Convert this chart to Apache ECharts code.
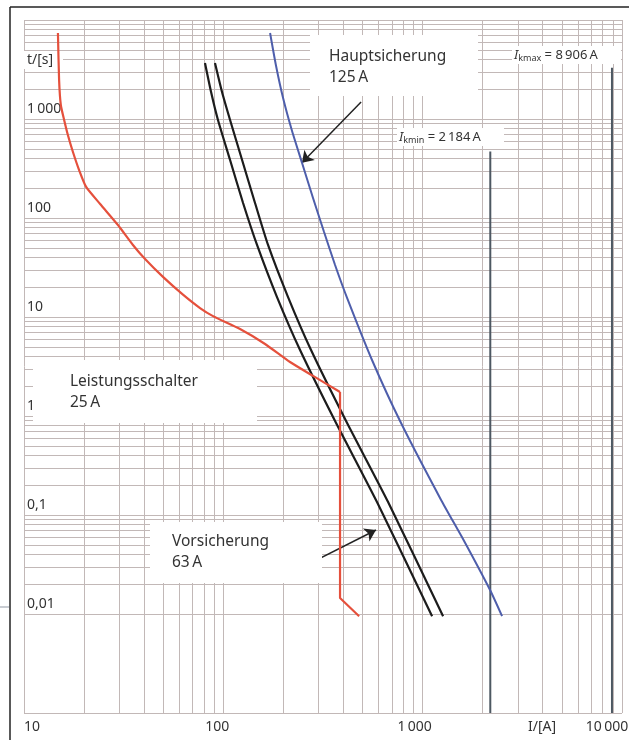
<!DOCTYPE html>
<html>
<head>
<meta charset="utf-8">
<script src="https://cdn.jsdelivr.net/npm/echarts@6.0.0/dist/echarts.min.js"></script>
<style>
  html, body { margin: 0; padding: 0; background: #fff; }
  #chart { width: 634px; height: 740px; }
</style>
</head>
<body>
<div id="chart"></div>
<script>
// Leistungsschalter 25 A  [I in A, t in s] - overload part and short-circuit part
const breaker25Curve = [
  [14.8, 7390], [15.0, 2477], [15.3, 1385], [15.9, 977], [16.6, 689], [17.6, 464],
  [18.9, 305], [20.5, 206], [24.1, 138.5], [29.6, 85], [35.2, 53.4], [40.5, 38.5],
  [49.8, 25.4], [62.1, 17.1], [76.4, 12.3], [88.8, 10.2], [121.3, 7.56], [161.9, 5.34],
  [216, 3.51], [282, 2.54], [385, 1.75]
]
const breaker25Trip = [[385, 1.75], [385, 0.0145], [480, 0.0095]]
// Vorsicherung 63 A, lower and upper band
const fuse63Min = [
  [80.9, 3680], [86.8, 1874], [94, 977], [108.1, 385], [125.6, 141.8], [147.6, 53.4],
  [185.9, 15.9], [242.6, 4.64], [363.5, 0.89], [590, 0.1353], [1115, 0.0095]
]
const fuse63Max = [
  [90.8, 3680], [98.5, 1874], [108.1, 977], [124.2, 385], [144.2, 141.8], [167.6, 53.4],
  [211.2, 15.9], [275.4, 4.64], [412.8, 0.89], [670.7, 0.1353], [1266, 0.0095]
]
// Hauptsicherung 125 A
const fuse125 = [
  [171.6, 7390], [183.9, 3430], [199.4, 1630], [221.2, 756], [248.3, 359], [281.8, 159],
  [320.1, 72.2], [363.5, 33.5], [417.6, 15.6], [557, 3.68], [779, 0.849], [1237, 0.142],
  [1614, 0.0546], [2178, 0.01746], [2502, 0.0095]
]
const ikmin = [[2184, 0.001], [2184, 470]]
const ikmax = [[8906, 0.001], [8906, 3300]]

const arrowHaupt = [[491, 1485], [248, 362]]
const arrowVor = [[209, 0.0248], [583, 0.0705]]

const xTickLabels = { 1: '10', 2: '100', 3: '1\u2009000', 4: '10\u2009000' }
const yTickLabels = { '-2': '0,01', '-1': '0,1', 0: '1', 1: '10', 2: '100', 3: '1\u2009000' }

const gridColor = '#c2b8b7'
const textColor = '#333'
const font = 'Noto Sans'

// minor grid lines 2..9 of each decade
const minorLines = []
for (const d of [10, 100, 1000]) {
  for (let m = 2; m <= 9; m++) minorLines.push({ xAxis: d * m })
}
for (const d of [0.001, 0.01, 0.1, 1, 10, 100, 1000]) {
  for (let m = 2; m <= 9; m++) minorLines.push({ yAxis: +(d * m).toPrecision(3) })
}

function curve(data, color, width, smooth) {
  return {
    type: 'line', data: data, showSymbol: false, z: 20, silent: true, smooth: smooth || false,
    lineStyle: { color: color, width: width }, animation: false
  }
}

function arrow(pts) {
  return [{ coord: pts[0] }, { coord: pts[1] }]
}

function box(x, y, w, h, lines, tx, ty) {
  return {
    type: 'group', z: 10,
    children: [
      { type: 'rect', z: 10, shape: { x: x, y: y, width: w, height: h }, style: { fill: '#fff' } },
      { type: 'text', z: 11, x: tx, y: ty, style: {
        text: lines, fill: textColor, font: '15.5px "' + font + '"', lineHeight: 21,
        textVerticalAlign: 'top' } }
    ]
  }
}

function ikLabel(x, y, w, sub, value) {
  return {
    type: 'group', z: 10,
    children: [
      { type: 'rect', z: 10, shape: { x: x, y: y, width: w, height: 18 }, style: { fill: '#fff' } },
      { type: 'text', z: 11, x: x + 2, y: y + 9, style: {
        text: '{i|I}{s|' + sub + '}{n| = ' + value + '}', fill: textColor, textVerticalAlign: 'middle',
        rich: {
          i: { fontFamily: font, fontSize: 13, fontStyle: 'italic', fill: textColor },
          s: { fontFamily: font, fontSize: 9, fill: textColor, padding: [7, 0, 0, 0] },
          n: { fontFamily: font, fontSize: 13, fill: textColor }
        } } }
    ]
  }
}

const chart = echarts.init(document.getElementById('chart'))
chart.setOption({
  animation: false,
  grid: { left: 24, top: 20, right: 12, bottom: 27 },
  xAxis: {
    type: 'log', min: 10, max: 10000, logBase: 10,
    axisLine: { show: false }, axisTick: { show: false },
    splitLine: { show: true, lineStyle: { color: gridColor, width: 1 } },
    axisLabel: {
      color: textColor, fontFamily: font, fontSize: 14, margin: 7,
      formatter: v => {
        const k = Math.round(Math.log10(v))
        return '{l' + k + '|' + xTickLabels[k] + '}'
      },
      rich: {
        l1: { padding: [0, 0, 0, 16] },
        l2: { padding: [0, 12, 0, 0] },
        l3: { padding: [0, 16, 0, 0] },
        l4: { padding: [0, 30, 0, 0] }
      }
    }
  },
  yAxis: {
    type: 'log', min: 0.001, max: 10000, logBase: 10,
    axisLine: { show: false }, axisTick: { show: false },
    splitLine: { show: true, lineStyle: { color: gridColor, width: 1 } },
    axisLabel: {
      inside: true, margin: 3, align: 'left', verticalAlign: 'bottom',
      padding: [0, 0, 3, 0],
      color: textColor, fontFamily: font, fontSize: 14,
      formatter: v => {
        const k = Math.round(Math.log10(v))
        return yTickLabels[k] !== undefined ? yTickLabels[k] : ''
      }
    }
  },
  series: [
    {
      type: 'line', data: [], z: 1, silent: true,
      markLine: {
        silent: true, symbol: 'none', animation: false, label: { show: false },
        lineStyle: { color: gridColor, width: 1, type: 'solid' },
        data: minorLines
      }
    },
    curve(ikmin, '#4d5862', 2),
    curve(ikmax, '#4d5862', 2),
    curve(fuse125, '#4e5eab', 2, 0.2),
    curve(fuse63Min, '#1c1c1c', 2.2, 0.2),
    curve(fuse63Max, '#1c1c1c', 2.2, 0.2),
    curve(breaker25Curve, '#e5503c', 2.2, 0.2),
    curve(breaker25Trip, '#e5503c', 2.2),
    {
      type: 'line', data: [], z: 21, silent: true,
      markLine: {
        silent: true, symbol: ['none', 'arrow'], symbolSize: 11, animation: false,
        label: { show: false },
        lineStyle: { color: '#222', width: 1.5, type: 'solid' },
        data: [arrow(arrowHaupt), arrow(arrowVor)]
      }
    }
  ],
  graphic: [
    { type: 'line', z: 30, shape: { x1: 10, y1: 7, x2: 10, y2: 740 }, style: { stroke: '#222', lineWidth: 1.5 } },
    { type: 'line', z: 30, shape: { x1: 10, y1: 7, x2: 629, y2: 7 }, style: { stroke: '#222', lineWidth: 1.5 } },
    { type: 'line', z: 30, shape: { x1: 0, y1: 607, x2: 9, y2: 607 }, style: { stroke: '#c8ccd2', lineWidth: 2 } },
    box(310, 35, 168, 61, 'Hauptsicherung\n125\u2009A', 329, 46),
    box(33, 360, 224, 63, 'Leistungsschalter\n25\u2009A', 70, 371),
    box(150, 522, 172, 61, 'Vorsicherung\n63\u2009A', 172, 531),
    {
      type: 'group', z: 10,
      children: [
        { type: 'rect', z: 10, shape: { x: 24, y: 51, width: 39, height: 18 }, style: { fill: '#fff' } },
        { type: 'text', z: 11, x: 27, y: 60, style: { text: 't/[s]', fill: textColor,
          font: '14px "' + font + '"', textVerticalAlign: 'middle' } }
      ]
    },
    ikLabel(512, 46, 109, 'kmax', '8\u2009906\u2009A'),
    ikLabel(397, 128, 107, 'kmin', '2\u2009184\u2009A'),
    { type: 'text', z: 11, x: 542, y: 727, style: { text: 'I/[A]', fill: textColor,
      font: '14px "' + font + '"', textAlign: 'center', textVerticalAlign: 'middle' } }
  ]
})
</script>
</body>
</html>
